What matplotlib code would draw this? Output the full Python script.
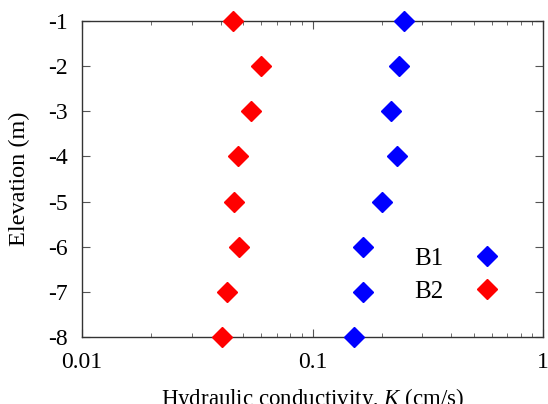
import numpy as np
import matplotlib
matplotlib.use("Agg")
import matplotlib.pyplot as plt

plt.rcParams['font.family'] = ['Liberation Serif', 'DejaVu Serif']
plt.rcParams['mathtext.fontset'] = 'custom'
plt.rcParams['mathtext.it'] = 'Liberation Serif:italic'
plt.rcParams['mathtext.rm'] = 'Liberation Serif'

# elevation of each test (m)
elevation = [-1, -2, -3, -4, -5, -6, -7, -8]
# hydraulic conductivity (cm/s)
k_b1 = [0.250, 0.238, 0.218, 0.233, 0.201, 0.166, 0.165, 0.151]
k_b2 = [0.0453, 0.0598, 0.0543, 0.0475, 0.0455, 0.0478, 0.0424, 0.0404]

fig = plt.figure(figsize=(5.48, 4.04), dpi=100)
ax = fig.add_axes([82 / 548, (404 - 337) / 404, (543 - 82) / 548, (337 - 21) / 404])

ax.plot(k_b1, elevation, 'D', color='#0000ff', markersize=10.5, label='B1', clip_on=False, zorder=3)
ax.plot(k_b2, elevation, 'D', color='#ff0000', markersize=10.5, label='B2', clip_on=False, zorder=3)

ax.set_xscale('log')
ax.set_xlim(0.01, 1)
ax.set_ylim(-8, -1)
ax.set_xticks([0.01, 0.1, 1])
ax.set_xticklabels(['0.01', '0.1', '1'])
ax.set_yticks(elevation)
ax.set_yticklabels([str(e) for e in elevation])

ax.tick_params(which='both', direction='in', top=True, right=True, colors='#555555',
               labelcolor='black', labelsize=17)
ax.tick_params(which='major', length=6, width=0.8)
ax.tick_params(which='minor', length=3, width=0.6)
ax.tick_params(axis='x', pad=11)
ax.tick_params(axis='y', pad=10)
for s in ax.spines.values():
    s.set_color('#333333')
    s.set_linewidth(1.0)

ax.set_xlabel('Hydraulic conductivity, $K$ (cm/s)', fontsize=16.5, labelpad=9)
ax.set_ylabel('Elevation (m)', fontsize=17.5, labelpad=13)

ax.legend(loc='center', bbox_to_anchor=(0.82, 0.196), frameon=False, markerfirst=False,
          fontsize=18, handletextpad=1.0, labelspacing=0.4, handlelength=1.5,
          borderaxespad=0)

fig.savefig('out.png', dpi=100)
